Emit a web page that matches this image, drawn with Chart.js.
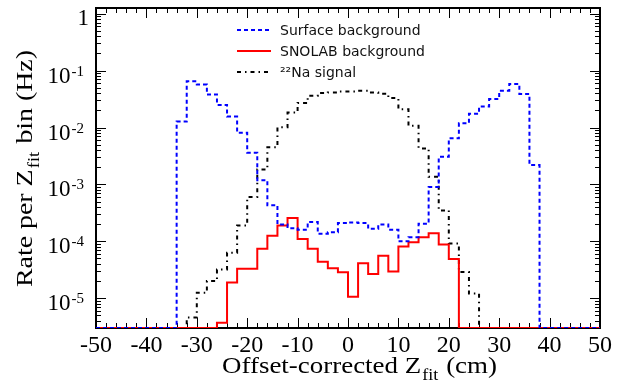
<!DOCTYPE html>
<html>
<head>
<meta charset="utf-8">
<script src="https://cdn.jsdelivr.net/npm/chart.js@4.4.1/dist/chart.umd.min.js"></script>
<style>
  body { margin: 0; background: #fff; }
  canvas { display: block; }
</style>
</head>
<body>
<canvas id="chart" width="633" height="383"></canvas>
<script>
// low edge of each 2 cm bin in Z_fit
var binLow = [-50, -48, -46, -44, -42, -40, -38, -36, -34, -32,
              -30, -28, -26, -24, -22, -20, -18, -16, -14, -12,
              -10, -8, -6, -4, -2, 0, 2, 4, 6, 8,
              10, 12, 14, 16, 18, 20, 22, 24, 26, 28,
              30, 32, 34, 36, 38, 40, 42, 44, 46, 48];
var BIN_WIDTH = 2;

// rate per bin (Hz), empty bins are 0
var surfaceRate = [0, 0, 0, 0, 0, 0, 0, 0, 1.27e-2, 6.5e-2,
                   5.7e-2, 3.8e-2, 2.5e-2, 1.56e-2, 8.1e-3, 3.6e-3, 1.19e-3, 4.3e-4, 1.98e-4, 1.7e-4,
                   1.6e-4, 2.18e-4, 1.36e-4, 1.45e-4, 2.09e-4, 2.15e-4, 2.09e-4, 1.66e-4, 1.98e-4, 1.6e-4,
                   1.0e-4, 1.18e-4, 2.04e-4, 9.0e-4, 3.06e-3, 6.45e-3, 1.19e-2, 1.74e-2, 2.34e-2, 3.16e-2,
                   4.44e-2, 5.82e-2, 3.87e-2, 2.19e-3, 0, 0, 0, 0, 0, 0];
var snolabRate = [0, 0, 0, 0, 0, 0, 0, 0, 0, 0,
                  0, 0, 3.7e-6, 1.9e-5, 3.3e-5, 3.3e-5, 7.4e-5, 1.26e-4, 1.9e-4, 2.57e-4,
                  1.1e-4, 7.4e-5, 4.4e-5, 3.35e-5, 2.85e-5, 1.06e-5, 4.1e-5, 2.67e-5, 5.6e-5, 2.95e-5,
                  8.1e-5, 9.6e-5, 1.18e-4, 1.39e-4, 8.8e-5, 4.9e-5, 0, 0, 0, 0,
                  0, 0, 0, 0, 0, 0, 0, 0, 0, 0];
var naSignalRate = [0, 0, 0, 0, 0, 0, 0, 0, 0, 4.6e-6,
                    1.25e-5, 2.0e-5, 3.2e-5, 6.3e-5, 1.9e-4, 6.0e-4, 1.83e-3, 4.5e-3, 1.01e-2, 1.83e-2,
                    2.69e-2, 3.61e-2, 4.03e-2, 4.14e-2, 4.31e-2, 4.31e-2, 4.44e-2, 4.14e-2, 3.93e-2, 3.29e-2,
                    2.1e-2, 1.07e-2, 4.3e-3, 1.36e-3, 3.5e-4, 9.2e-5, 2.9e-5, 1.21e-5, 0, 0,
                    0, 0, 0, 0, 0, 0, 0, 0, 0, 0];

var seriesNames = ['Surface background', 'SNOLAB background', '\u00B2\u00B2Na signal'];
var xTickValues = [-50, -40, -30, -20, -10, 0, 10, 20, 30, 40, 50];
var yTickValues = [1, 1e-1, 1e-2, 1e-3, 1e-4, 1e-5];
var yTickBase = ['1', '10', '10', '10', '10', '10'];
var yTickExp = ['', '-1', '-2', '-3', '-4', '-5'];

var X_MIN = -50, X_MAX = 50;
var Y_MIN = 3e-6, Y_MAX = 1.26;
var SERIF = '"Liberation Serif", "Times New Roman", serif';
var SANS = '"DejaVu Sans", Verdana, sans-serif';

// histogram outline: one point per low edge plus the closing edge
function histPoints(values) {
  var pts = [];
  for (var i = 0; i < binLow.length; i++) {
    pts.push({ x: binLow[i], y: values[i] > 0 ? values[i] : Y_MIN });
  }
  var last = values[values.length - 1];
  pts.push({ x: binLow[binLow.length - 1] + BIN_WIDTH, y: last > 0 ? last : Y_MIN });
  return pts;
}

var styles = [
  { color: '#0000ff', dash: [4, 3] },
  { color: '#ff0000', dash: [] },
  { color: '#000000', dash: [4, 4, 1.5, 4] }
];

// text with a subscript part, squeezed or stretched to a given width
function drawSubTitle(ctx, parts, width) {
  var big = '24px ' + SERIF, small = '16px ' + SERIF;
  ctx.font = big;
  var w0 = ctx.measureText(parts[0]).width;
  var w2 = ctx.measureText(parts[2]).width;
  ctx.font = small;
  var w1 = ctx.measureText(parts[1]).width;
  var total = w0 + w1 + w2 + 2;
  ctx.scale(width / total, 1);
  ctx.font = big;
  ctx.fillText(parts[0], 0, 0);
  ctx.fillText(parts[2], w0 + w1 + 2, 0);
  ctx.font = small;
  ctx.fillText(parts[1], w0 + 1, 7);
}

// frame, inward ticks and tick labels, ROOT style
var axisFrame = {
  id: 'axisFrame',
  beforeDatasetsDraw: function (chart) {
    var ctx = chart.ctx, a = chart.chartArea;
    var xs = chart.scales.x, ys = chart.scales.y;
    ctx.save();
    ctx.strokeStyle = '#000';
    ctx.lineWidth = 1;
    ctx.beginPath();
    for (var v = X_MIN; v <= X_MAX; v += 2) {
      var px = Math.round(xs.getPixelForValue(v)) + 0.5;
      var len = (v % 10 === 0) ? 10 : 5;
      ctx.moveTo(px, a.bottom); ctx.lineTo(px, a.bottom - len);
      ctx.moveTo(px, a.top); ctx.lineTo(px, a.top + len);
    }
    for (var d = 1e-6; d <= Y_MAX; d *= 10) {
      for (var m = 1; m <= 9; m++) {
        var val = m * d;
        if (val < Y_MIN || val > Y_MAX) continue;
        var py = Math.round(ys.getPixelForValue(val)) + 0.5;
        var ln = (m === 1) ? 10 : 5;
        ctx.moveTo(a.left, py); ctx.lineTo(a.left + ln, py);
        ctx.moveTo(a.right, py); ctx.lineTo(a.right - ln, py);
      }
    }
    ctx.stroke();
    ctx.lineWidth = 2;
    ctx.strokeRect(a.left, a.top, a.right - a.left, a.bottom - a.top);

    ctx.fillStyle = '#000';
    ctx.textBaseline = 'alphabetic';
    ctx.font = '24px ' + SERIF;
    ctx.textAlign = 'center';
    xTickValues.forEach(function (t) {
      ctx.fillText(String(t), xs.getPixelForValue(t), a.bottom + 24);
    });

    ctx.textAlign = 'left';
    yTickValues.forEach(function (t, i) {
      var py = ys.getPixelForValue(t);
      ctx.font = '23px ' + SERIF;
      var bw = ctx.measureText(yTickBase[i]).width;
      if (!yTickExp[i]) {
        ctx.fillText(yTickBase[i], a.left - 7 - bw, py + 11);
        return;
      }
      ctx.font = '15px ' + SERIF;
      var ew = ctx.measureText(yTickExp[i]).width;
      var x0 = a.left - 12 - ew - bw - 1;
      ctx.font = '23px ' + SERIF;
      ctx.fillText(yTickBase[i], x0, py + 12);
      ctx.font = '15px ' + SERIF;
      ctx.fillText(yTickExp[i], x0 + bw + 1, py + 5);
    });

    // axis titles with subscripted "fit"
    ctx.save();
    ctx.translate(222, 373);
    drawSubTitle(ctx, ['Offset-corrected Z', 'fit', ' (cm)'], 275);
    ctx.restore();

    ctx.save();
    ctx.translate(32, 287);
    ctx.rotate(-Math.PI / 2);
    drawSubTitle(ctx, ['Rate per Z', 'fit', ' bin (Hz)'], 237);
    ctx.restore();
    ctx.restore();
  }
};

// legend inside the plot
var histLegend = {
  id: 'histLegend',
  afterDatasetsDraw: function (chart) {
    var ctx = chart.ctx;
    ctx.save();
    ctx.font = '14px ' + SANS;
    ctx.textBaseline = 'middle';
    ctx.textAlign = 'left';
    seriesNames.forEach(function (name, i) {
      var y = 30 + i * 21;
      ctx.strokeStyle = styles[i].color;
      ctx.lineWidth = 2;
      ctx.setLineDash(styles[i].dash);
      ctx.beginPath();
      ctx.moveTo(237, y);
      ctx.lineTo(271, y);
      ctx.stroke();
      ctx.setLineDash([]);
      ctx.fillStyle = '#111';
      ctx.fillText(name, 280, y + 1);
    });
    ctx.restore();
  }
};

var rates = [surfaceRate, snolabRate, naSignalRate];
var drawOrder = [1, 2, 3];

new Chart('chart', {
  type: 'line',
  data: {
    datasets: rates.map(function (r, i) {
      return {
        label: seriesNames[i],
        data: histPoints(r),
        borderColor: styles[i].color,
        borderDash: styles[i].dash,
        borderWidth: 2,
        stepped: 'before',
        pointRadius: 0,
        fill: false,
        order: drawOrder[i]
      };
    })
  },
  options: {
    responsive: false,
    animation: false,
    devicePixelRatio: 1,
    layout: { padding: { left: 96, top: 8, right: 33, bottom: 55 } },
    scales: {
      x: { type: 'linear', min: X_MIN, max: X_MAX, display: false },
      y: { type: 'logarithmic', min: Y_MIN, max: Y_MAX, display: false }
    },
    plugins: {
      legend: { display: false },
      tooltip: { enabled: false }
    }
  },
  plugins: [axisFrame, histLegend]
});
</script>
</body>
</html>
